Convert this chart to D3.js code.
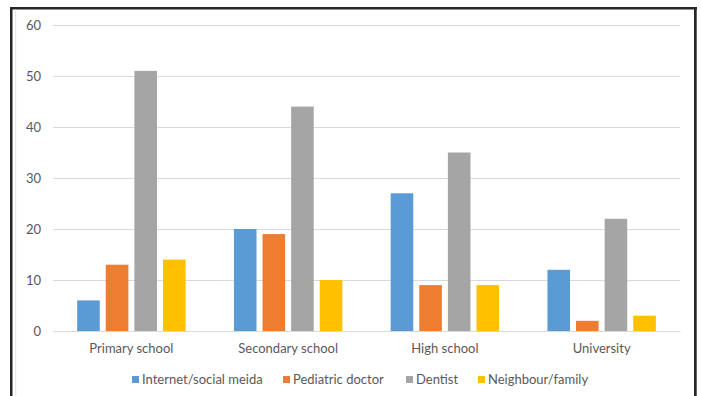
<!DOCTYPE html>
<html><head><meta charset="utf-8">
<script src="https://cdn.jsdelivr.net/npm/d3@7"></script>
<style>body{margin:0;background:#fff}svg{display:block}</style>
</head><body>
<svg id="c" width="701" height="396"></svg>
<script>
const categories = ["Primary school","Secondary school","High school","University"];
const seriesNames = ["Internet/social meida","Pediatric doctor","Dentist","Neighbour/family"];
const internet = [6,20,27,12];
const pediatric = [13,19,9,2];
const dentist = [51,44,35,22];
const neighbour = [14,10,9,3];
const yTicks = [0,10,20,30,40,50,60];
const colors = ["#5b9bd5","#ed7d31","#a5a5a5","#ffc000"];
const series = [internet,pediatric,dentist,neighbour];

const svg = d3.select("#c");
const font = "Lato, 'Open Sans', sans-serif";
svg.append("rect").attr("width",701).attr("height",396).attr("fill","#fff");

// frame
svg.append("rect").attr("x",10).attr("y",7).attr("width",687).attr("height",2.5).attr("fill","#262626");
svg.append("rect").attr("x",10).attr("y",7).attr("width",2.5).attr("height",389).attr("fill","#262626");
svg.append("rect").attr("x",694).attr("y",7).attr("width",2.7).attr("height",389).attr("fill","#262626");
svg.append("rect").attr("x",15).attr("y",9.5).attr("width",1.2).attr("height",387).attr("fill","#e6e6e6");

const x0 = d3.scaleBand().domain(categories).range([53,680]).paddingInner(0).paddingOuter(0);
const x1 = d3.scaleBand().domain(seriesNames).range([0,x0.bandwidth()]).paddingInner(0.21).paddingOuter(0.845);
const y = d3.scaleLinear().domain([0,60]).range([331,25]);

const yAxis = d3.axisLeft(y).tickValues(yTicks).tickSize(-(680-53)).tickPadding(12);
const ga = svg.append("g").attr("transform","translate(53,0)").call(yAxis);
ga.select(".domain").remove();
ga.selectAll(".tick line").attr("stroke","#d9d9d9").attr("stroke-width",1);
ga.selectAll(".tick text").attr("fill","#595959").attr("font-size",13).attr("font-family",font);

const groups = svg.append("g").selectAll("g").data(categories).join("g")
  .attr("transform",d=>`translate(${x0(d)},0)`);
groups.selectAll("rect").data((d,i)=>seriesNames.map((s,j)=>({s,v:series[j][i],c:colors[j]}))).join("rect")
  .attr("x",d=>x1(d.s)).attr("width",x1.bandwidth())
  .attr("y",d=>y(d.v)).attr("height",d=>y(0)-y(d.v)).attr("fill",d=>d.c);

const xAxis = d3.axisBottom(x0).tickSize(0).tickPadding(13);
const gx = svg.append("g").attr("transform",`translate(0,${y(0)})`).call(xAxis);
gx.select(".domain").attr("stroke","#d9d9d9");
gx.selectAll(".tick text").attr("fill","#595959").attr("font-size",13).attr("font-family",font);

// legend
const lx = [132,283,406,478];
const lg = svg.append("g").selectAll("g").data(seriesNames).join("g")
  .attr("transform",(d,i)=>`translate(${lx[i]},376)`);
lg.append("rect").attr("width",7).attr("height",7).attr("fill",(d,i)=>colors[i]);
lg.append("text").attr("x",10).attr("y",8).text(d=>d).attr("fill","#595959")
  .attr("font-size",13).attr("font-family",font);
</script>
</body></html>
